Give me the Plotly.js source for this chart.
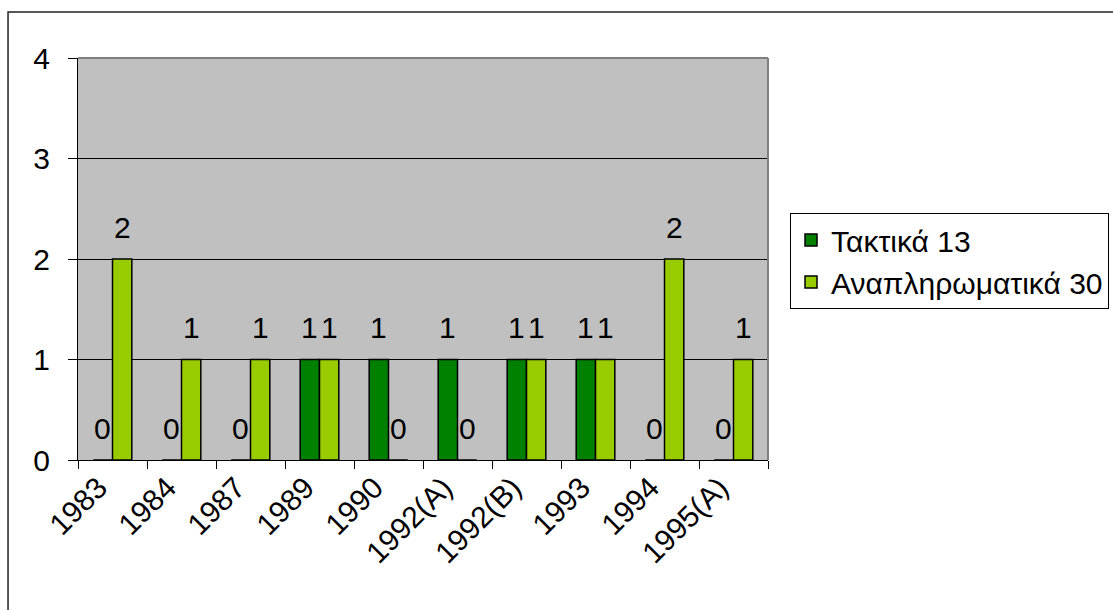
<!DOCTYPE html>
<html>
<head>
<meta charset="utf-8">
<script src="https://cdn.plot.ly/plotly-3.0.1.min.js"></script>
<style>
html,body{margin:0;padding:0;background:#fff;}
#chart{width:1113px;height:610px;}
</style>
</head>
<body>
<div id="chart"></div>
<script>
const categories = ["1983", "1984", "1987", "1989", "1990", "1992(A)", "1992(B)", "1993", "1994", "1995(A)"];
const regularName = "Τακτικά 13";
const substituteName = "Αναπληρωματικά 30";
const regularValues = [0, 0, 0, 1, 1, 1, 1, 1, 0, 0];
const substituteValues = [2, 1, 1, 1, 0, 0, 1, 1, 2, 1];
const yTicks = [0, 1, 2, 3, 4];

const FONT = "Liberation Sans, Arial, sans-serif";
const FS = 30;
const plotW = 690;
const bargap = 0.44;
const catW = plotW / categories.length;
const barW = catW * (1 - bargap) / 2;

const traces = [
  {
    type: "bar", name: regularName, x: categories, y: regularValues,
    marker: {color: "#008000", line: {color: "#000", width: 1.5}},
    legendgroup: "a", hoverinfo: "skip"
  },
  {
    type: "bar", name: substituteName, x: categories, y: substituteValues,
    marker: {color: "#99CC00", line: {color: "#000", width: 1.5}},
    legendgroup: "b", hoverinfo: "skip"
  }
];

const annotations = [];
[regularValues, substituteValues].forEach((vals, si) => {
  vals.forEach((v, i) => {
    annotations.push({
      x: i, y: v, xref: "x", yref: "y",
      text: String(v), showarrow: false,
      xshift: (si === 0 ? -1 : 1) * barW / 2,
      yshift: 32, yanchor: "middle", xanchor: "center",
      font: {family: FONT, size: FS, color: "#000"}
    });
  });
});

const layout = {
  width: 1113, height: 610,
  margin: {l: 78, r: 345, t: 58, b: 150, pad: 0},
  paper_bgcolor: "#fff",
  plot_bgcolor: "#C0C0C0",
  font: {family: FONT, size: FS, color: "#000"},
  barmode: "group",
  bargap: bargap,
  bargroupgap: 0,
  showlegend: true,
  legend: {
    xref: "container", yref: "container",
    x: 0.7098, xanchor: "left", y: 0.6508, yanchor: "top",
    bgcolor: "#fff", bordercolor: "#000", borderwidth: 1,
    font: {family: FONT, size: FS, color: "#000"},
    traceorder: "grouped", tracegroupgap: 0,
    itemwidth: 30
  },
  xaxis: {
    type: "category",
    categoryorder: "array", categoryarray: categories,
    range: [-0.5, categories.length - 0.5],
    tickson: "boundaries",
    ticks: "outside", ticklen: 8, tickcolor: "#000", tickwidth: 1,
    tickangle: -45,
    tickfont: {family: FONT, size: FS, color: "#000"},
    ticklabelstandoff: -3,
    ticklabelshift: -14,
    showline: true, linecolor: "#000", linewidth: 1,
    showgrid: false, zeroline: false, fixedrange: true, automargin: false
  },
  yaxis: {
    range: [0, 4], tickvals: yTicks, ticktext: yTicks.map(String),
    ticks: "outside", ticklen: 9, tickcolor: "#000", tickwidth: 1,
    tickfont: {family: FONT, size: FS, color: "#000"},
    showline: true, linecolor: "#000", linewidth: 1,
    showgrid: true, gridcolor: "#000", gridwidth: 1,
    zeroline: false, fixedrange: true, ticklabelstandoff: 12, automargin: false
  },
  annotations: annotations,
  shapes: [
    {type: "line", xref: "paper", yref: "paper", x0: 0, x1: 1, y0: 1, y1: 1,
     line: {color: "#808080", width: 2}},
    {type: "line", xref: "paper", yref: "paper", x0: 1, x1: 1, y0: 0, y1: 1,
     line: {color: "#808080", width: 2}},
    {type: "rect", xref: "paper", yref: "paper", x0: -0.1014, x1: 1.6, y0: -0.6, y1: 1.1144,
     line: {color: "#222", width: 1.5}, fillcolor: "rgba(0,0,0,0)"}
  ]
};

Plotly.newPlot("chart", traces, layout, {displayModeBar: false, staticPlot: true});
</script>
</body>
</html>
